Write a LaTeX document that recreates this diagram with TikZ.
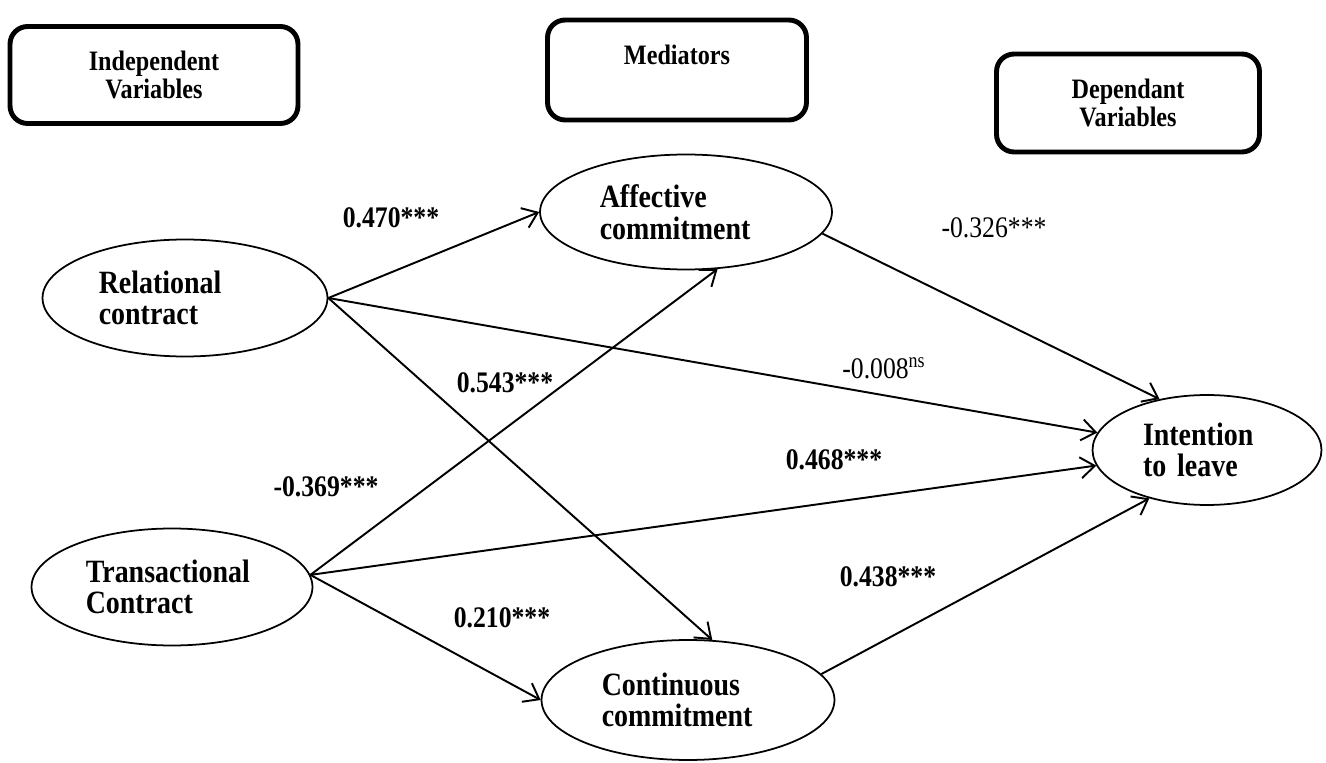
\documentclass[tikz,border=0pt]{standalone}
\usepackage{fontspec}
\setmainfont{Liberation Serif}[FakeStretch=0.86]
\usetikzlibrary{shapes.geometric,arrows.meta}
\tikzstyle{header}=[draw, rounded corners=10pt, line width=2.8pt, align=center,
font=\fontsize{16}{15.5}\selectfont\bfseries, inner sep=0pt]
\tikzstyle{latent}=[draw, ellipse, line width=1pt, inner sep=0pt, align=left,
text width=3.45cm, font=\fontsize{18.5}{18}\selectfont\bfseries]
\tikzstyle{weight}=[inner sep=0pt, font=\fontsize{17}{17}\selectfont\bfseries]
\tikzstyle{link}=[-{Straight Barb[length=8pt,width=12pt]}, line width=1.1pt]

\begin{document}
\begin{tikzpicture}[x=0.02cm,y=-0.02cm]
\useasboundingbox (0,0) rectangle (1326,763);
	\node[header, minimum width=5.76cm, minimum height=1.94cm](head1)at (154,75){Independent\\Variables};
\node[header, minimum width=5.18cm, minimum height=2.0cm, text depth=0.62cm](head2)at (677,70){Mediators};
\node[header, minimum width=5.26cm, minimum height=1.96cm](head3)at (1128,103){Dependant\\Variables};

\node[latent, minimum width=5.7cm, minimum height=2.34cm](indep1)at (185,298){Relational\\contract};
\node[latent, minimum width=5.62cm, minimum height=2.34cm](indep2)at (172,587){Transactional\\Contract};

\node[latent, minimum width=5.84cm, minimum height=2.3cm](medi1)at (686,212){Affective\\commitment};
\node[latent, minimum width=5.86cm, minimum height=2.4cm](medi2)at (688,700){Continuous\\commitment};

\node[latent, text width=2.56cm, minimum width=4.58cm, minimum height=2.2cm](dep1)at (1207,450){Intention\\to leave};


\draw [link](indep1.east) -- (medi1.west);
\draw [link](indep1.east) -- (dep1.171);
\draw [link](indep1.east) -- (medi2.68);

\draw [link](indep2.5) -- (medi1.299);
\draw [link](indep2.5) -- (dep1.188);
\draw [link](indep2.5) -- (medi2.west);

\draw [link](medi1.351) -- (dep1.133);
\draw [link](medi2.11) -- (dep1.220);

\node[weight](w1)at (391,218){0.470***};
\node[weight](w2)at (884,368){\mdseries -0.008\textsuperscript{ns}};
\node[weight](w3)at (505,383){0.543***};
\node[weight](w4)at (326,487){-0.369***};
\node[weight](w5)at (834,460){0.468***};
\node[weight](w6)at (502,618){0.210***};
\node[weight](w7)at (994,228){\mdseries -0.326***};
\node[weight](w8)at (888,577){0.438***};
\end{tikzpicture}
\end{document}
